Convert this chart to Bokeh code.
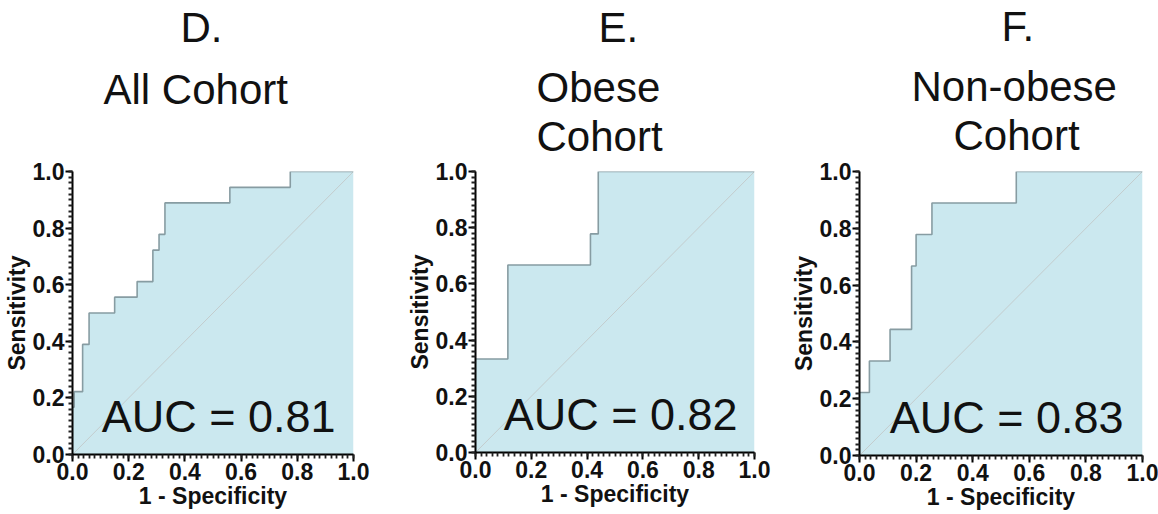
from bokeh.plotting import figure
from bokeh.layouts import row
from bokeh.models import Title, SingleIntervalTicker, NumeralTickFormatter, Range1d
from bokeh.core.properties import value
from bokeh.embed import file_html
from bokeh.resources import INLINE

# ---------------- data ----------------
panel_letters = ["D.", "E.", "F."]
panel_names = [["All Cohort"], ["Obese", "Cohort"], ["Non-obese", "Cohort"]]

# ROC staircase corners: sensitivity level that holds from each 1-specificity value onward
fpr_d = [0.0, 0.006, 0.036, 0.059, 0.150, 0.230, 0.286, 0.308, 0.329, 0.560, 0.775, 1.0]
tpr_d = [0.167, 0.222, 0.389, 0.500, 0.556, 0.611, 0.722, 0.778, 0.889, 0.944, 1.0, 1.0]

fpr_e = [0.0, 0.116, 0.412, 0.440, 1.0]
tpr_e = [0.333, 0.667, 0.778, 1.0, 1.0]

fpr_f = [0.0, 0.035, 0.108, 0.184, 0.200, 0.256, 0.554, 1.0]
tpr_f = [0.222, 0.333, 0.444, 0.667, 0.778, 0.889, 1.0, 1.0]

auc_values = [0.81, 0.82, 0.83]

diag_x = [0.0, 1.0]
diag_y = [0.0, 1.0]

tick_values = [0.0, 0.2, 0.4, 0.6, 0.8, 1.0]
x_label = "1 - Specificity"
y_label = "Sensitivity"

# ---------------- styling / layout ----------------
FONT = "Liberation Sans"
FILL = "#cbe8ef"
LINE = "#879ca2"
DIAG = "#c3cccd"

# per-panel page geometry (figure origin x, borders, frame)
geo = [
    dict(x0=0,   left=72, fw=281, right=37, top=169, fh=283, bottom=62),
    dict(x0=390, left=85, fw=279, right=24, top=170, fh=281, bottom=63),
    dict(x0=778, left=81, fw=283, right=16, top=171, fh=284, bottom=59),
]
# title lines: (baseline y on page, left x on page)
title_pos = [
    [(43, 182), (105, 105)],
    [(43, 600), (103, 538), (153, 538)],
    [(43, 1003), (103, 913), (153, 955)],
]

TITLE_SIZE = 42
TEXT_H = 47     # approx text box height for the title font
DESC = 5        # approx distance baseline -> bottom of text box


def add_titles(p, g, lines):
    cur = g["top"]
    for text, (base, left) in reversed(lines):
        text_bottom = base + DESC
        gap = cur - text_bottom
        stand = 0
        if gap >= 3:
            p.add_layout(Title(text=" ", text_font_size="1px", standoff=gap - 3), "above")
        elif gap < 0:
            stand = 2 * gap
        p.add_layout(Title(text=text, align="left", offset=left - (g["x0"] + g["left"]) - 2,
                           standoff=stand, text_font_size=f"{TITLE_SIZE}px",
                           text_font=FONT, text_font_style="normal", text_color="#111111",
                           vertical_align="bottom"), "above")
        cur = text_bottom - TEXT_H - 2 - stand


def make_panel(i, fpr, tpr):
    g = geo[i]
    p = figure(frame_width=g["fw"], frame_height=g["fh"],
               min_border_left=g["left"], min_border_right=g["right"],
               min_border_top=g["top"], min_border_bottom=g["bottom"],
               x_range=Range1d(0, 1), y_range=Range1d(0, 1),
               output_backend="svg", toolbar_location=None)
    p.outline_line_color = None
    p.xgrid.visible = False
    p.ygrid.visible = False
    p.background_fill_color = "white"
    p.border_fill_color = "white"

    p.varea_step(x=fpr, y1=0, y2=tpr, step_mode="after", fill_color=FILL)
    p.line(diag_x, diag_y, line_color=DIAG, line_width=1)
    p.step(fpr, tpr, mode="after", line_color=LINE, line_width=1.6)

    p.text(x=[0.52], y=[0.135], text=[f"AUC = {auc_values[i]:.2f}"],
           text_font=value(FONT), text_font_size="45px", text_color="#111111",
           text_align="center", text_baseline="alphabetic")

    for ax in (p.xaxis[0], p.yaxis[0]):
        ax.ticker = SingleIntervalTicker(interval=tick_values[1] - tick_values[0], num_minor_ticks=10)
        ax.formatter = NumeralTickFormatter(format="0.0")
        ax.axis_line_width = 2
        ax.axis_line_color = "black"
        ax.major_tick_line_width = 2
        ax.major_tick_line_color = "black"
        ax.major_tick_out = 7
        ax.major_tick_in = 0
        ax.minor_tick_line_width = 1.8
        ax.minor_tick_line_color = "#222222"
        ax.minor_tick_out = 4
        ax.minor_tick_in = 0
        ax.major_label_text_font = FONT
        ax.major_label_text_font_size = "23px"
        ax.major_label_text_font_style = "bold"
        ax.major_label_text_color = "#111111"
        ax.major_label_standoff = 1
        ax.axis_label_text_font = FONT
        ax.axis_label_text_font_size = "23px"
        ax.axis_label_text_font_style = "bold"
        ax.axis_label_text_color = "#111111"
        ax.axis_label_standoff = 0
    p.xaxis.axis_label = x_label
    p.yaxis.axis_label = y_label

    add_titles(p, g, list(zip([panel_letters[i]] + panel_names[i], title_pos[i])))
    return p


panels = [make_panel(0, fpr_d, tpr_d), make_panel(1, fpr_e, tpr_e), make_panel(2, fpr_f, tpr_f)]
layout = row(*panels, spacing=0)

open("out.html", "w").write(file_html(layout, INLINE))
